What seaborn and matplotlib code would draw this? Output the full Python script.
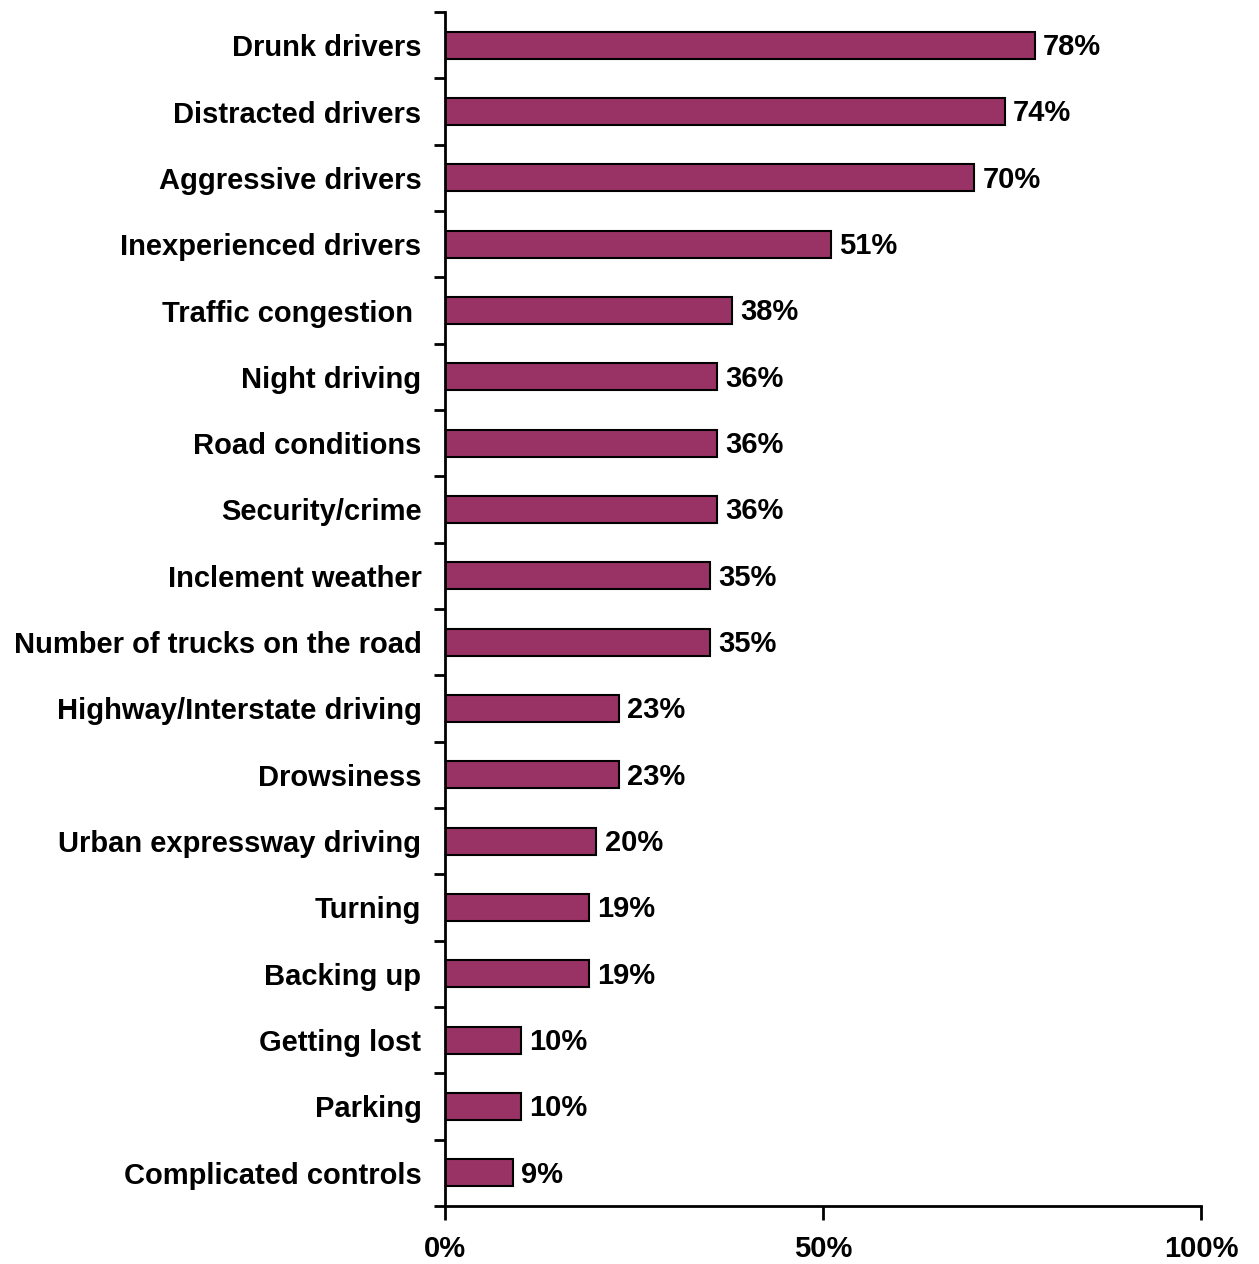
import numpy as np
import pandas as pd
import matplotlib
matplotlib.use('Agg')
import matplotlib.pyplot as plt
import seaborn as sns
from matplotlib.ticker import FixedLocator

categories = ['Drunk drivers', 'Distracted drivers', 'Aggressive drivers',
              'Inexperienced drivers', 'Traffic congestion ', 'Night driving',
              'Road conditions', 'Security/crime', 'Inclement weather',
              'Number of trucks on the road', 'Highway/Interstate driving',
              'Drowsiness', 'Urban expressway driving', 'Turning', 'Backing up',
              'Getting lost', 'Parking', 'Complicated controls']
values = [78, 74, 70, 51, 38, 36, 36, 36, 35, 35, 23, 23, 20, 19, 19, 10, 10, 9]
x_ticks = [0, 50, 100]
x_labels = ['0%', '50%', '100%']

sns.set_style('white')
plt.rcParams['font.family'] = ['Liberation Sans', 'DejaVu Sans']
plt.rcParams['font.weight'] = 'bold'
plt.rcParams['text.color'] = 'black'
plt.rcParams['xtick.color'] = 'black'
plt.rcParams['ytick.color'] = 'black'

fs = 21

df = pd.DataFrame({'Category': categories, 'Value': values})

fig = plt.figure(figsize=(12.59, 12.64), dpi=100)
ax = fig.add_axes([0.3535, 0.0459, 0.954 - 0.3535, 0.9905 - 0.0459])
sns.barplot(data=df, x='Value', y='Category', orient='h', color='#993366',
            edgecolor='black', linewidth=1.5, width=0.41, saturation=1, ax=ax)

# value labels to the right of each bar
for i, v in enumerate(values):
    ax.text(v + 1.1, i + 0.03, f'{v}%', va='center', ha='left', fontsize=fs,
            fontweight='bold', color='black')

ax.set_xlim(0, 100)
ax.set_ylim(len(categories) - 0.5, -0.5)
ax.set_xticks(x_ticks)
ax.set_xticklabels(x_labels, fontsize=fs, fontweight='bold')
ax.tick_params(axis='x', direction='out', length=10, width=2, pad=11, bottom=True)
ax.set_yticks(range(len(categories)))
ax.set_yticklabels(categories, fontsize=fs, fontweight='bold')
ax.tick_params(axis='y', which='major', length=0, pad=17)
# tick marks between categories
ax.yaxis.set_minor_locator(FixedLocator(np.arange(-0.5, len(categories), 1.0)))
ax.tick_params(axis='y', which='minor', direction='out', length=8, width=2, left=True)
ax.set_xlabel('')
ax.set_ylabel('')
for s in ['top', 'right']:
    ax.spines[s].set_visible(False)
for s in ['left', 'bottom']:
    ax.spines[s].set_linewidth(2)
    ax.spines[s].set_color('black')

fig.savefig('out.png', dpi=100)
